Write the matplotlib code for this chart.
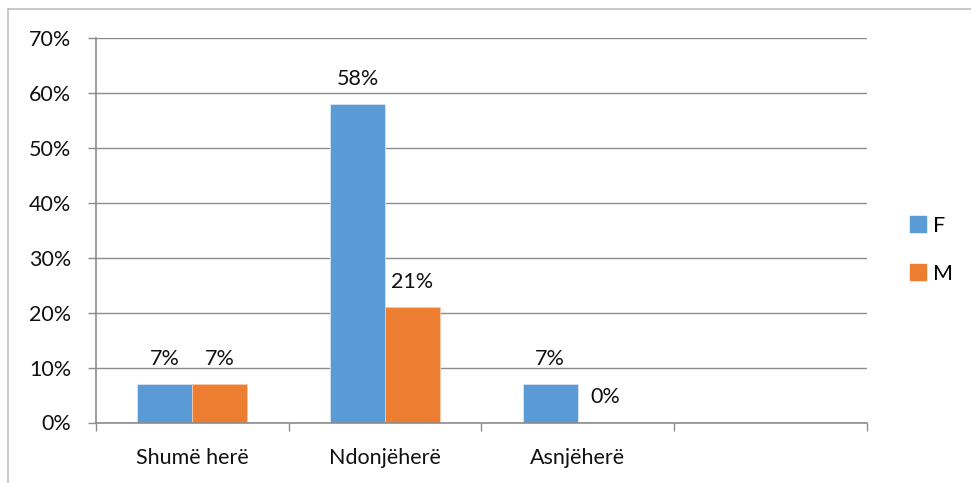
import matplotlib
matplotlib.use("Agg")
import matplotlib.pyplot as plt
from matplotlib.lines import Line2D
import numpy as np

# ---------------- data ----------------
categories = ["Shumë herë", "Ndonjëherë", "Asnjëherë", ""]
female = [7, 58, 7, None]
male = [7, 21, 0, None]
yticks = [0, 10, 20, 30, 40, 50, 60, 70]
# --------------------------------------

BLUE = "#5B9BD5"
ORANGE = "#ED7D31"
GRID = "#8c8c8c"
TXT = "#111111"

plt.rcParams['font.family'] = ['Lato', 'DejaVu Sans']
FS = 15.5

fig = plt.figure(figsize=(9.71, 4.83), dpi=100)
ax = fig.add_axes([96 / 971, 1 - 422.5 / 483, (866.5 - 96) / 971, (422.5 - 38.3) / 483])

x = np.arange(len(categories))
w = 1 / 3.5  # 150% gap width

for xi, f, m in zip(x, female, male):
    if f is None:
        continue
    ax.bar(xi - w / 2, f, w, color=BLUE, edgecolor="#d6e4f2", linewidth=0.6)
    ax.bar(xi + w / 2, m, w, color=ORANGE, edgecolor="#f8c9a8", linewidth=0.6)
    ax.annotate(f"{f}%", (xi - w / 2, f), xytext=(0, 14), textcoords="offset points",
                ha="center", va="baseline", fontsize=FS, color=TXT)
    ax.annotate(f"{m}%", (xi + w / 2, m), xytext=(0, 14), textcoords="offset points",
                ha="center", va="baseline", fontsize=FS, color=TXT)

ax.set_xlim(-0.5, len(categories) - 0.5)
ax.set_ylim(0, 70)
ax.set_yticks(yticks)
ax.set_yticklabels([f"{t}%" for t in yticks], fontsize=FS, color=TXT)
ax.yaxis.grid(True, color=GRID, linewidth=1.0)
ax.set_axisbelow(True)

# category labels between the slot ticks
ax.set_xticks(x)
ax.set_xticklabels(categories, fontsize=FS, color=TXT)
ax.tick_params(axis="x", length=0, pad=18)
ax.set_xticks(np.arange(len(categories) + 1) - 0.5, minor=True)
ax.tick_params(axis="x", which="minor", length=6, color=GRID, width=1)
ax.tick_params(axis="y", length=6, color=GRID, width=1, pad=12)

for side in ["top", "right"]:
    ax.spines[side].set_visible(False)
for side in ["left", "bottom"]:
    ax.spines[side].set_color(GRID)
    ax.spines[side].set_linewidth(1.2)

# legend
handles = [Line2D([], [], marker="s", linestyle="none", markersize=11, color=BLUE),
           Line2D([], [], marker="s", linestyle="none", markersize=11, color=ORANGE)]
fig.legend(handles, ["F", "M"], loc="center left", bbox_to_anchor=(890 / 971, 1 - 250 / 483),
           frameon=False, fontsize=FS, handlelength=0.8, handletextpad=0.3, labelspacing=1.3)

# chart frame
fig.add_artist(Line2D([8 / 971, 8 / 971], [0, 1 - 9 / 483], transform=fig.transFigure,
                      color="#bfbfbf", linewidth=1.2))
fig.add_artist(Line2D([8 / 971, 1], [1 - 9 / 483, 1 - 9 / 483], transform=fig.transFigure,
                      color="#bfbfbf", linewidth=1.2))

fig.savefig("out.png", dpi=100)
